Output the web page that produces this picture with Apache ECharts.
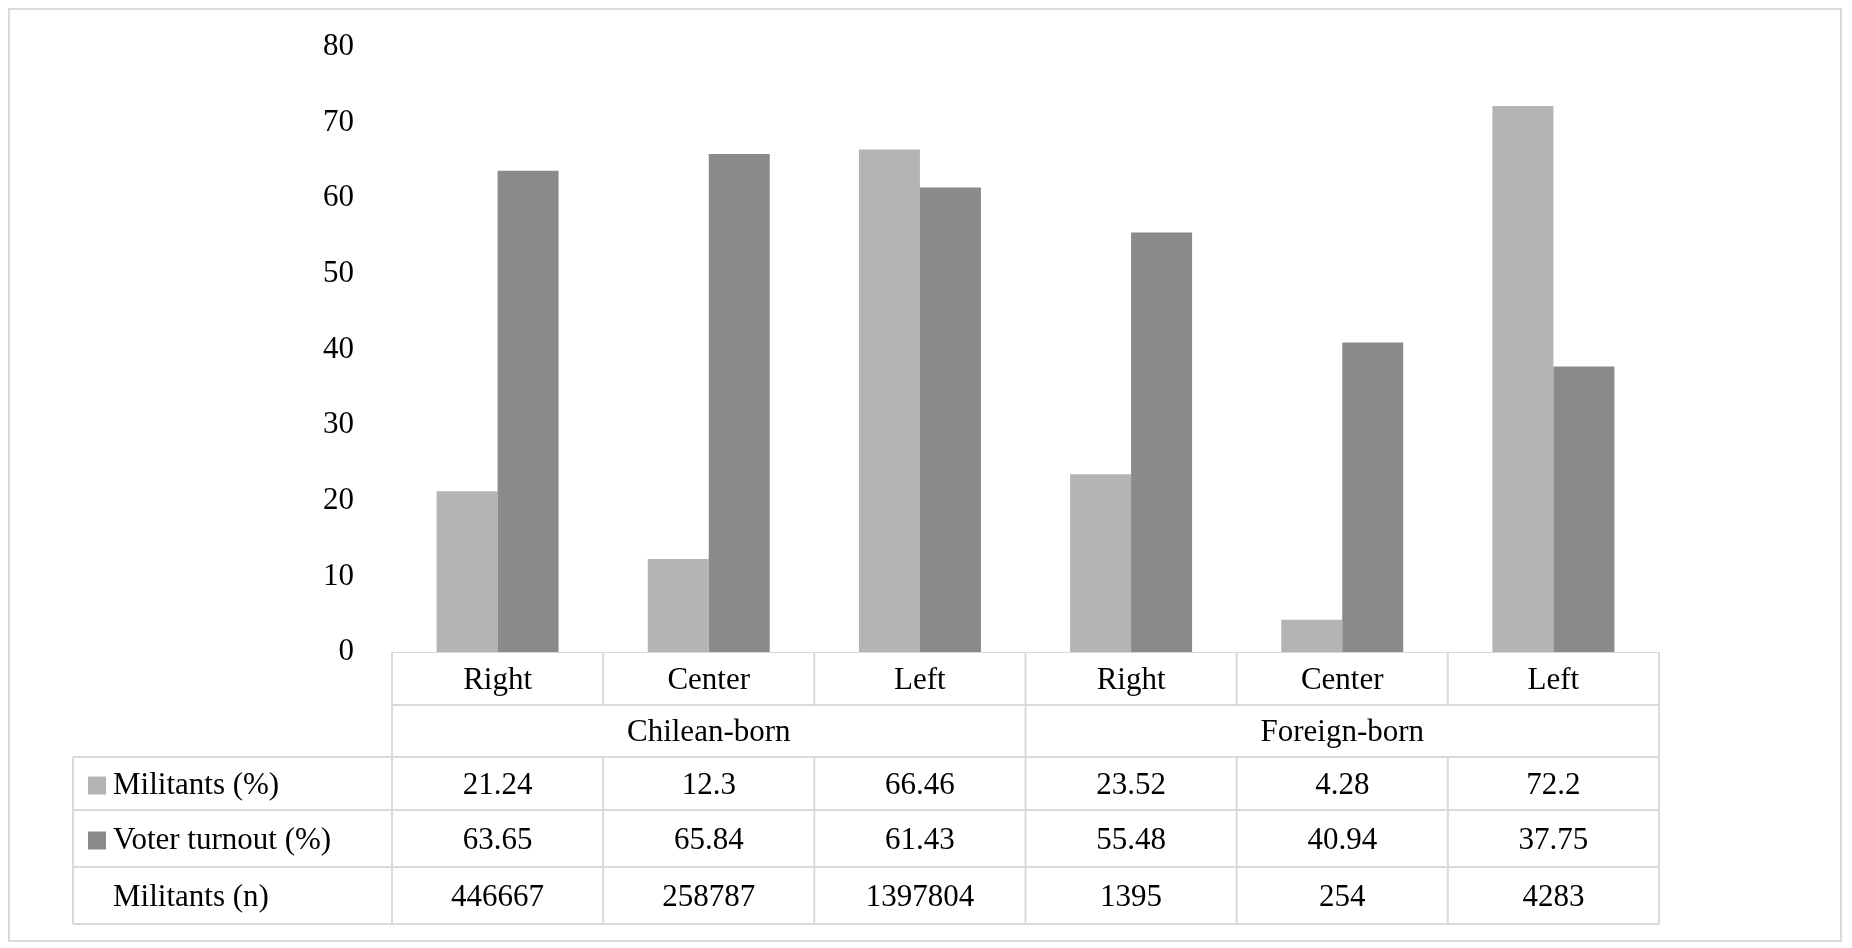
<!DOCTYPE html>
<html>
<head>
<meta charset="utf-8">
<script src="https://cdn.jsdelivr.net/npm/echarts@6/dist/echarts.min.js"></script>
<style>
  html, body { margin: 0; padding: 0; background: #fff; }
  #chart { width: 1852px; height: 948px; }
</style>
</head>
<body>
<div id="chart"></div>
<script>
const categories = ['Right', 'Center', 'Left', 'Right', 'Center', 'Left']
const groups = ['Chilean-born', 'Foreign-born']
const rows = [
  { name: 'Militants (%)', color: '#b3b4b3', values: [21.24, 12.3, 66.46, 23.52, 4.28, 72.2] },
  { name: 'Voter turnout (%)', color: '#8a8a8a', values: [63.65, 65.84, 61.43, 55.48, 40.94, 37.75] },
  { name: 'Militants (n)', color: null, values: [446667, 258787, 1397804, 1395, 254, 4283] }
]

const font = '"Liberation Serif", "Times New Roman", serif'
const L = 392, R = 1659, T = 47, B = 652
const rowY = [652, 705, 757, 810, 867, 924]
const tableLeft = 73
const lineColor = '#d9d9d9'

const chart = echarts.init(document.getElementById('chart'))

chart.setOption({
  animation: false,
  textStyle: { fontFamily: font },
  grid: { left: L, right: 1852 - R, top: T, bottom: 948 - B },
  xAxis: {
    type: 'category',
    data: categories,
    axisLine: { lineStyle: { color: lineColor } },
    axisTick: { show: false },
    axisLabel: { show: false }
  },
  yAxis: {
    type: 'value',
    min: 0, max: 80, interval: 10,
    axisLine: { show: false },
    axisTick: { show: false },
    splitLine: { show: false },
    axisLabel: { color: '#000', fontSize: 31, fontFamily: font, margin: 38 }
  },
  series: rows.slice(0, 2).map(r => ({
    type: 'bar',
    name: r.name,
    data: r.values,
    barWidth: 61,
    barGap: '0%',
    itemStyle: { color: r.color }
  }))
})

// data table under the plot
const step = (R - L) / categories.length
const g = []
const line = (x1, y1, x2, y2) => g.push({
  type: 'line', shape: { x1, y1, x2, y2 }, style: { stroke: lineColor, lineWidth: 2 }
})
const text = (x, y, s, align) => g.push({
  type: 'text', x, y,
  style: { text: s, fontSize: 31, fontFamily: font, fill: '#000', align: align || 'center', verticalAlign: 'middle' }
})

// outer border
g.push({ type: 'rect', shape: { x: 9, y: 9, width: 1832, height: 932 }, style: { fill: null, stroke: lineColor, lineWidth: 2 } })

// horizontal lines
line(L, rowY[1], R, rowY[1])
line(tableLeft, rowY[2], R, rowY[2])
line(tableLeft, rowY[3], R, rowY[3])
line(tableLeft, rowY[4], R, rowY[4])
line(tableLeft, rowY[5], R, rowY[5])
// vertical lines
for (let i = 0; i <= categories.length; i++) {
  const x = L + i * step
  line(x, rowY[0], x, rowY[1])
  line(x, rowY[2], x, rowY[5])
}
line(L, rowY[1], L, rowY[2])
line(L + 3 * step, rowY[1], L + 3 * step, rowY[2])
line(R, rowY[1], R, rowY[2])
line(tableLeft, rowY[2], tableLeft, rowY[5])

categories.forEach((c, i) => {
  const x = chart.convertToPixel({ xAxisIndex: 0 }, i)
  text(x, (rowY[0] + rowY[1]) / 2 + 2, c)
})
groups.forEach((s, i) => text(L + (i * 3 + 1.5) * step, (rowY[1] + rowY[2]) / 2 + 2, s))

rows.forEach((r, k) => {
  const yc = (rowY[k + 2] + rowY[k + 3]) / 2 + 2
  if (r.color) g.push({ type: 'rect', shape: { x: 88, y: yc - 9, width: 18, height: 18 }, style: { fill: r.color } })
  text(113, yc, r.name, 'left')
  r.values.forEach((v, i) => text(L + (i + 0.5) * step, yc, String(v)))
})

chart.setOption({ graphic: g })
</script>
</body>
</html>
